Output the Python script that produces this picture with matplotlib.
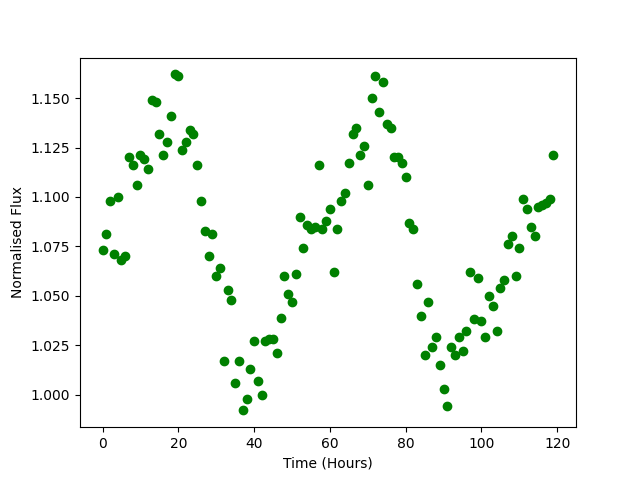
import numpy as np
import matplotlib
matplotlib.use("Agg")
import matplotlib.pyplot as plt

# Time in hours, one sample per hour
time_hours = np.arange(120)

flux = [
    1.073, 1.081, 1.098, 1.071, 1.100, 1.068, 1.070, 1.120, 1.116, 1.106,
    1.121, 1.119, 1.114, 1.149, 1.148, 1.132, 1.121, 1.128, 1.141, 1.162,
    1.161, 1.124, 1.128, 1.134, 1.132, 1.116, 1.098, 1.083, 1.070, 1.081,
    1.060, 1.064, 1.017, 1.053, 1.048, 1.006, 1.017, 0.992, 0.998, 1.013,
    1.027, 1.007, 1.000, 1.027, 1.028, 1.028, 1.021, 1.039, 1.060, 1.051,
    1.047, 1.061, 1.090, 1.074, 1.086, 1.084, 1.085, 1.116, 1.084, 1.088,
    1.094, 1.062, 1.084, 1.098, 1.102, 1.117, 1.132, 1.135, 1.121, 1.126,
    1.106, 1.150, 1.161, 1.143, 1.158, 1.137, 1.135, 1.120, 1.120, 1.117,
    1.110, 1.087, 1.084, 1.056, 1.040, 1.020, 1.047, 1.024, 1.029, 1.015,
    1.003, 0.994, 1.024, 1.020, 1.029, 1.022, 1.032, 1.062, 1.038, 1.059,
    1.037, 1.029, 1.050, 1.045, 1.032, 1.054, 1.058, 1.076, 1.080, 1.060,
    1.074, 1.099, 1.094, 1.085, 1.080, 1.095, 1.096, 1.097, 1.099, 1.121,
]

plt.figure(figsize=(6.4, 4.8), dpi=100)
plt.plot(time_hours, flux, "o", color="green")
plt.xlabel("Time (Hours)")
plt.ylabel("Normalised Flux")
plt.savefig("out.png")
